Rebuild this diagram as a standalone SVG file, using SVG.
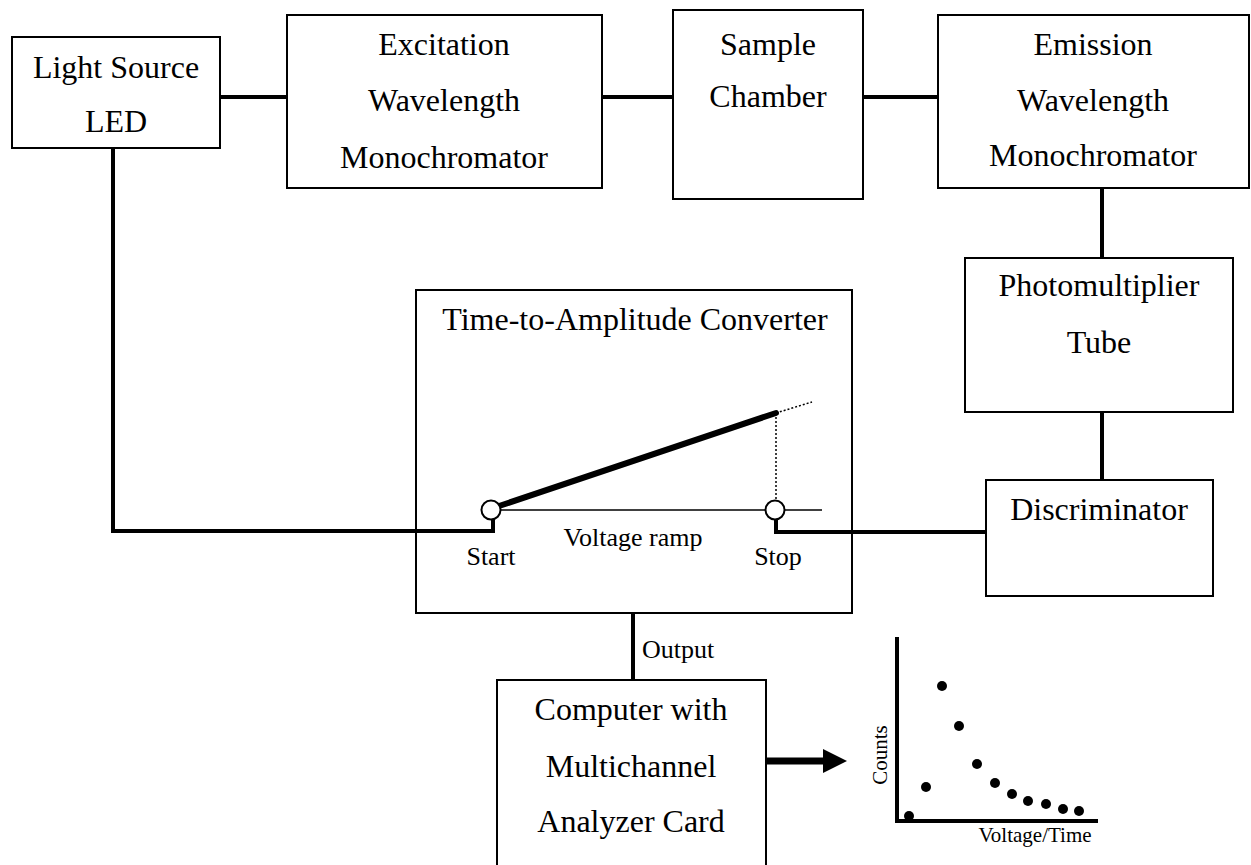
<svg xmlns="http://www.w3.org/2000/svg" width="1251" height="865" viewBox="0 0 1251 865">
<style>
.box{fill:#fff;stroke:#000;stroke-width:2}
.t{font-family:"Liberation Serif","Times New Roman",serif;font-size:32px;fill:#000;text-anchor:middle}
.s{font-family:"Liberation Serif","Times New Roman",serif;font-size:26px;fill:#000}
.g{font-family:"Liberation Serif","Times New Roman",serif;font-size:21px;fill:#000}
.c{fill:none;stroke:#000;stroke-width:4}
</style>
<defs>
<marker id="ah" viewBox="0 0 24 24" refX="0" refY="12" markerWidth="24" markerHeight="24" markerUnits="userSpaceOnUse" orient="auto"><path d="M0,0 L24,12 L0,24 Z" fill="#000"/></marker>
</defs>
<rect width="1251" height="865" fill="#fff"/>
<g id="light-source">
<rect class="box" x="12" y="37" width="208" height="111"/>
<text class="t" x="116" y="78">Light Source</text>
<text class="t" x="116" y="132">LED</text>
</g>
<g id="excitation-monochromator">
<rect class="box" x="287" y="15" width="315" height="173"/>
<text class="t" x="444" y="55">Excitation</text>
<text class="t" x="444" y="111">Wavelength</text>
<text class="t" x="444" y="168">Monochromator</text>
</g>
<g id="sample-chamber">
<rect class="box" x="673" y="10" width="190" height="189"/>
<text class="t" x="768" y="55">Sample</text>
<text class="t" x="768" y="107">Chamber</text>
</g>
<g id="emission-monochromator">
<rect class="box" x="938" y="15" width="311" height="173"/>
<text class="t" x="1093" y="55">Emission</text>
<text class="t" x="1093" y="111">Wavelength</text>
<text class="t" x="1093" y="166">Monochromator</text>
</g>
<g id="photomultiplier-tube">
<rect class="box" x="965" y="258" width="268" height="154"/>
<text class="t" x="1099" y="296">Photomultiplier</text>
<text class="t" x="1099" y="353">Tube</text>
</g>
<g id="discriminator">
<rect class="box" x="986" y="480" width="227" height="116"/>
<text class="t" x="1099" y="520">Discriminator</text>
</g>
<g id="tac">
<rect class="box" x="416" y="290" width="436" height="323"/>
<text class="t" x="635" y="330">Time-to-Amplitude Converter</text>
<line stroke="#000" stroke-width="1.5" x1="491" y1="510" x2="822" y2="510"/>
<line stroke="#000" stroke-width="6" stroke-linecap="round" x1="499" y1="506" x2="776" y2="413"/>
<line stroke="#000" stroke-width="1.5" stroke-dasharray="2,2" x1="776" y1="413" x2="812" y2="402"/>
<line stroke="#000" stroke-width="1.5" stroke-dasharray="2,2" x1="776" y1="413" x2="776" y2="500"/>
<text class="s" x="491" y="565" text-anchor="middle">Start</text>
<text class="s" x="633" y="546" text-anchor="middle">Voltage ramp</text>
<text class="s" x="778" y="565" text-anchor="middle">Stop</text>
</g>
<text class="s" x="642" y="658">Output</text>
<g id="computer">
<rect class="box" x="497" y="680" width="269" height="200"/>
<text class="t" x="631" y="720">Computer with</text>
<text class="t" x="631" y="777">Multichannel</text>
<text class="t" x="631" y="832">Analyzer Card</text>
</g>
<g id="graph">
<path fill="none" stroke="#000" stroke-width="4" d="M897,637 V821 H1098"/>
<g fill="#000">
<circle cx="909" cy="816" r="5"/>
<circle cx="926" cy="787" r="5"/>
<circle cx="942" cy="686" r="5"/>
<circle cx="959" cy="726" r="5"/>
<circle cx="977" cy="764" r="5"/>
<circle cx="995" cy="783" r="5"/>
<circle cx="1012" cy="794" r="5"/>
<circle cx="1028" cy="801" r="5"/>
<circle cx="1046" cy="804" r="5"/>
<circle cx="1063" cy="809" r="5"/>
<circle cx="1079" cy="811" r="5"/>
</g>
<text class="g" x="887" y="755" text-anchor="middle" transform="rotate(-90 887 755)">Counts</text>
<text class="g" x="1035" y="842" text-anchor="middle">Voltage/Time</text>
</g>
<g id="connectors">
<line class="c" x1="220" y1="97" x2="287" y2="97"/>
<line class="c" x1="602" y1="97" x2="673" y2="97"/>
<line class="c" x1="863" y1="97" x2="938" y2="97"/>
<line class="c" x1="1102" y1="188" x2="1102" y2="258"/>
<line class="c" x1="1102" y1="412" x2="1102" y2="480"/>
<path class="c" d="M113,148 V531 H493 V519"/>
<path class="c" d="M986,532 H776 V519"/>
<line class="c" x1="633" y1="613" x2="633" y2="680"/>
<line stroke="#000" stroke-width="7" x1="766" y1="761" x2="823" y2="761" marker-end="url(#ah)"/>
</g>
<g id="tac-terminals">
<circle cx="491" cy="510" r="9.5" fill="#fff" stroke="#000" stroke-width="2"/>
<circle cx="775" cy="510" r="9.5" fill="#fff" stroke="#000" stroke-width="2"/>
</g>
</svg>
